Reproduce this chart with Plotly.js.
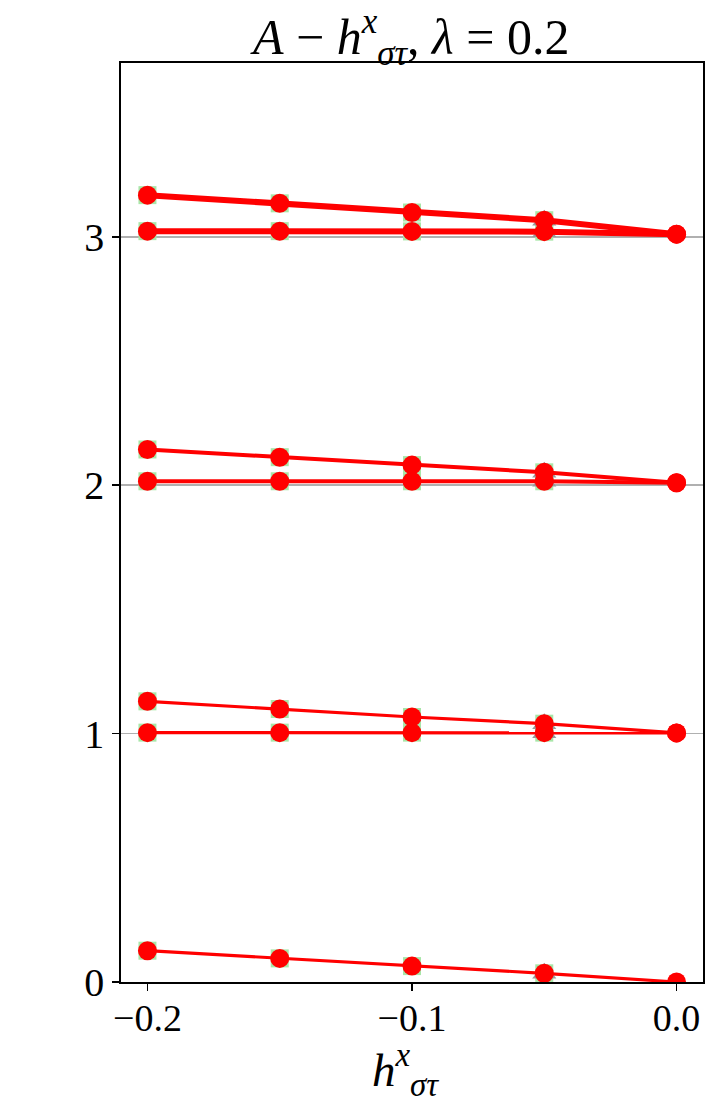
<!DOCTYPE html>
<html>
<head>
<meta charset="utf-8">
<script src="https://cdn.plot.ly/plotly-3.0.1.min.js"></script>
<style>html,body{margin:0;padding:0;background:#fff;}#chart{width:718px;height:1104px;}</style>
</head>
<body>
<div id="chart"></div>
<script>
// field values h^x_{στ}
const hx = [-0.2, -0.15, -0.1, -0.05, 0.0];
// energy levels
const E0  = [0.126, 0.095, 0.064, 0.035, 0.000];
const E1a = [1.004, 1.004, 1.004, 1.004, 1.003];
const E1b = [1.130, 1.099, 1.067, 1.040, 1.003];
const E2a = [2.016, 2.016, 2.016, 2.016, 2.010];
const E2b = [2.144, 2.113, 2.081, 2.052, 2.010];
const E3a = [3.023, 3.023, 3.022, 3.021, 3.011];
const E3b = [3.168, 3.135, 3.098, 3.067, 3.011];
const yTicks = [0, 1, 2, 3];
const xTicks = [-0.2, -0.1, 0.0];
const xTickText = ['\u22120.2', '\u22120.1', '0.0'];
const titleText = '<i>A</i> \u2212 <i>h</i><sup><i>x</i></sup><sub><i>\u03c3\u03c4</i></sub>, <i>\u03bb</i> = 0.2';
const xTitleText = '<i>h</i><sup><i>x</i></sup><sub><i>\u03c3\u03c4</i></sub>';

const levels = [
  {y: E0, w: 3.2}, {y: E1a, w: 3.2}, {y: E1b, w: 3.2},
  {y: E2a, w: 4}, {y: E2b, w: 4}, {y: E3a, w: 6}, {y: E3b, w: 6}
];

const traces = [];
// background markers (other methods) peeking from behind
levels.forEach(l => {
  traces.push({x: hx.slice(0, 4), y: l.y.slice(0, 4), mode: 'markers', type: 'scatter',
    marker: {symbol: 'square', size: 18, color: '#a8e6a8'}, hoverinfo: 'skip', showlegend: false});
  traces.push({x: hx.slice(3, 4), y: l.y.slice(3, 4), mode: 'markers', type: 'scatter',
    marker: {symbol: 'triangle-up', size: 21, color: '#9a9a9a'}, hoverinfo: 'skip', showlegend: false});
});
levels.forEach(l => {
  traces.push({x: hx, y: l.y, mode: 'lines+markers', type: 'scatter',
    line: {color: '#ff0000', width: l.w},
    marker: {symbol: 'circle', size: 19, color: '#ff0000'}, showlegend: false});
});

const L = 121, R = 703, T = 63, B = 982;
const px = v => (v - L) / (R - L);
const py = v => (B - v) / (B - T);
const serif = 'Liberation Serif, Times New Roman, serif';

const annotations = [
  {text: titleText, x: px(409), y: py(1), xanchor: 'center', yanchor: 'top',
   font: {family: serif, size: 50, color: '#000'}},
  {text: xTitleText, x: px(405), y: py(1104), xanchor: 'center', yanchor: 'bottom',
   font: {family: serif, size: 47, color: '#000'}}
].map(a => Object.assign({xref: 'paper', yref: 'paper', showarrow: false, borderpad: 0}, a));

const layout = {
  width: 718, height: 1104,
  margin: {l: L, r: 718 - R, t: T, b: 1104 - B, pad: 0},
  paper_bgcolor: '#fff', plot_bgcolor: '#fff',
  font: {family: serif, color: '#000'},
  showlegend: false,
  xaxis: {range: [-0.21, 0.01], tickvals: xTicks, ticktext: xTickText,
    ticks: 'outside', ticklen: 7, tickwidth: 1.5, tickcolor: '#000', ticklabelstandoff: -5,
    showline: true, linecolor: '#000', linewidth: 1.8, mirror: true,
    showgrid: false, zeroline: false, tickfont: {family: serif, size: 38}},
  yaxis: {range: [0, 3.7], tickvals: yTicks,
    ticks: 'outside', ticklen: 7, tickwidth: 1.5, tickcolor: '#000',
    showline: true, linecolor: '#000', linewidth: 1.8, mirror: true,
    showgrid: true, gridcolor: '#b0b0b0', gridwidth: 1.5, zeroline: false,
    tickfont: {family: serif, size: 40}},
  annotations: annotations
};

Plotly.newPlot('chart', traces, layout, {displayModeBar: false, staticPlot: true});
</script>
</body>
</html>
